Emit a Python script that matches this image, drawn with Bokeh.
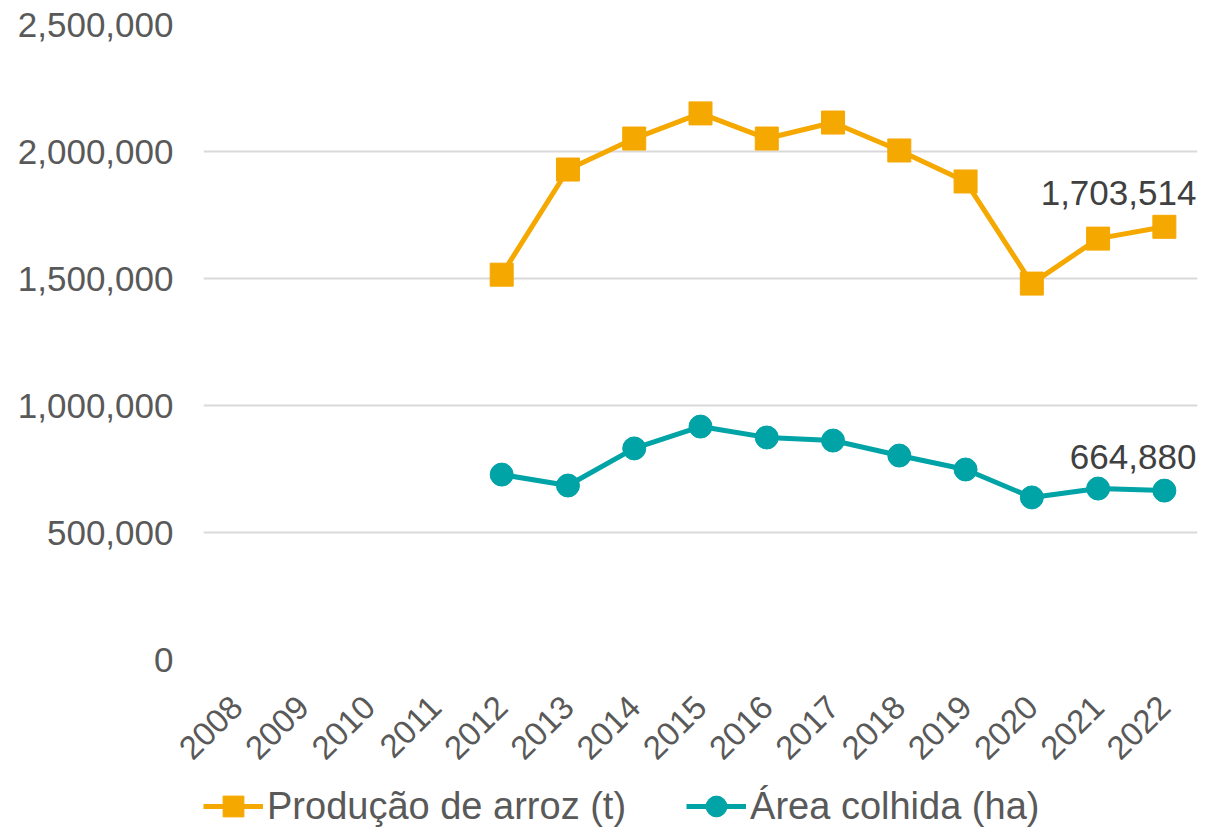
import math
from bokeh.plotting import figure
from bokeh.layouts import column
from bokeh.models import ColumnDataSource, NumeralTickFormatter, Legend, LegendItem, Range1d
from bokeh.core.properties import value
from bokeh.embed import file_html
from bokeh.resources import INLINE

years = [str(y) for y in range(2008, 2023)]
data_years = [str(y) for y in range(2012, 2023)]
producao = [1515000, 1929000, 2051000, 2150000, 2051000, 2114000, 2004000, 1882000, 1480000, 1657000, 1703514]
area = [728000, 685000, 831000, 917000, 874000, 862000, 803000, 748000, 638000, 673000, 664880]
y_ticks = [0, 500000, 1000000, 1500000, 2000000, 2500000]
series_labels = ["Produção de arroz (t)", "Área colhida (ha)"]

ORANGE = "#F5A800"
TEAL = "#00A3A6"
GRAY = "#595959"
FONT = "Liberation Sans"

p = figure(frame_width=994, frame_height=635,
           x_range=years, y_range=Range1d(0, 2500000),
           output_backend="svg", toolbar_location=None,
           min_border_left=203, min_border_right=24, min_border_top=24, min_border_bottom=0)
p.outline_line_color = None
p.background_fill_color = "white"

src_p = ColumnDataSource(dict(x=data_years, y=producao))
src_a = ColumnDataSource(dict(x=data_years, y=area))


def draw(fig):
    lp = fig.line("x", "y", source=src_p, line_color=ORANGE, line_width=5)
    mp = fig.scatter("x", "y", source=src_p, marker="square", size=23, fill_color=ORANGE, line_color=ORANGE)
    la = fig.line("x", "y", source=src_a, line_color=TEAL, line_width=5)
    ma = fig.scatter("x", "y", source=src_a, marker="circle", size=23, fill_color=TEAL, line_color=TEAL)
    return lp, mp, la, ma


draw(p)

lab_src = ColumnDataSource(dict(x=[data_years[-1], data_years[-1]], y=[producao[-1], area[-1]],
                                t=[f"{producao[-1]:,}", f"{area[-1]:,}"]))
p.text(x="x", y="y", text="t", source=lab_src, text_align="right", text_baseline="bottom",
       x_offset=32, y_offset=-22, text_font=value(FONT), text_font_size="35px", text_color="#404040")

p.yaxis.ticker = y_ticks
p.yaxis.formatter = NumeralTickFormatter(format="0,0")
p.yaxis.axis_line_color = None
p.yaxis.major_tick_line_color = None
p.yaxis.minor_tick_line_color = None
p.yaxis.major_label_text_font = FONT
p.yaxis.major_label_text_font_size = "35px"
p.yaxis.major_label_text_color = GRAY
p.yaxis.major_label_standoff = 24

p.xaxis.axis_line_color = None
p.xaxis.major_tick_line_color = None
p.xaxis.major_label_orientation = math.pi / 4
p.xaxis.major_label_text_font = FONT
p.xaxis.major_label_text_font_size = "33px"
p.xaxis.major_label_text_color = GRAY
p.xaxis.major_label_standoff = 36

p.xgrid.grid_line_color = None
p.ygrid.grid_line_color = "#D9D9D9"
p.ygrid.grid_line_width = 2

# Legend strip: same series drawn into a view that shows no data, only the legend
lg = figure(width=1221, height=60, x_range=years, y_range=Range1d(-2, -1),
            output_backend="svg", toolbar_location=None,
            x_axis_location=None, y_axis_location=None, min_border=0)
lg.outline_line_color = None
lg.grid.visible = False
llp, lmp, lla, lma = draw(lg)
legend = Legend(items=[LegendItem(label=series_labels[0], renderers=[llp, lmp]),
                       LegendItem(label=series_labels[1], renderers=[lla, lma])],
                orientation="horizontal", location=(0, 0),
                label_text_font=FONT, label_text_font_size="38px", label_text_color=GRAY,
                border_line_color=None, background_fill_alpha=0,
                glyph_width=60, glyph_height=52, spacing=60, label_standoff=4, padding=0, margin=0)
lg.add_layout(legend, "center")

layout = column(p, lg, spacing=0)
open("out.html", "w").write(file_html(layout, INLINE))
